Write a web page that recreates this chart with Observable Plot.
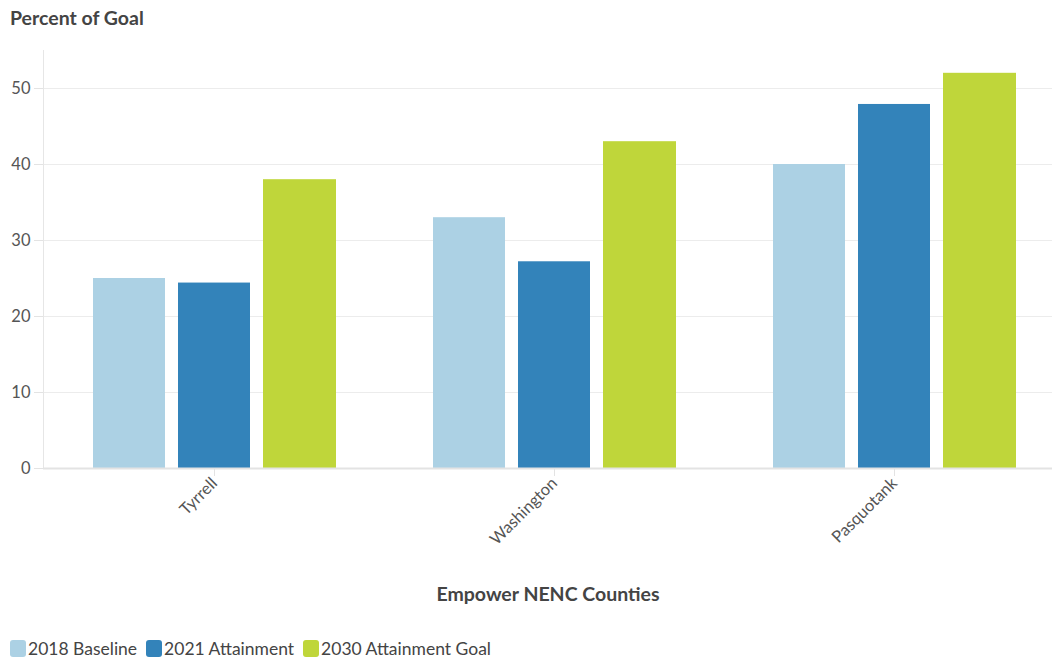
<!DOCTYPE html>
<html><head><meta charset="utf-8">
<script src="https://cdn.jsdelivr.net/npm/d3@7"></script>
<script src="https://cdn.jsdelivr.net/npm/@observablehq/plot@0.6"></script>
<style>
body{margin:0;background:#fff;font-family:Lato,"Open Sans",sans-serif;color:#444;width:1052px;height:658px;overflow:hidden;position:relative}
#title{position:absolute;left:10px;top:6px;font-weight:bold;font-size:19.5px;color:#444}
#chart{position:absolute;left:0;top:40px}
#legend{position:absolute;left:10px;top:638px;display:flex;gap:9px;font-size:17.5px;color:#444}
.item{display:flex;align-items:center;gap:2px}
.sw{width:16px;height:17px;border-radius:3px;display:inline-block}
g[aria-label="y-axis tick"], g[aria-label="x-axis tick"]{stroke:#e3e3e3;stroke-opacity:1}
g[aria-label="y-grid"]{stroke:#ececec;stroke-opacity:1}
g[aria-label="x-axis label"]{font-weight:bold;font-size:19.5px;fill:#444}
</style></head>
<body>
<div id="title">Percent of Goal</div>
<div id="chart"></div>
<div id="legend"></div>
<script>
const counties = ["Tyrrell", "Washington", "Pasquotank"];
const seriesNames = ["2018 Baseline", "2021 Attainment", "2030 Attainment Goal"];
const baseline2018 = [25, 33, 40];
const attainment2021 = [24.4, 27.2, 47.9];
const goal2030 = [38, 43, 52];
const seriesColors = ["#acd1e4", "#3383ba", "#bfd63a"];
const yTicks = [0, 10, 20, 30, 40, 50];
const xTitle = "Empower NENC Counties";

const seriesValues = [baseline2018, attainment2021, goal2030];
const rows = seriesValues.map((vals, s) => counties.map((c, i) => ({county: c, series: seriesNames[s], value: vals[i]})));
const insets = [[49, 219], [134, 134], [219, 48]];

const plot = Plot.plot({
  width: 1052,
  height: 570,
  marginLeft: 43,
  marginRight: 0,
  marginTop: 10,
  marginBottom: 142,
  style: {fontSize: "16.5px", fontFamily: "Lato, 'Open Sans', sans-serif", color: "#555", background: "#fff"},
  x: {domain: counties, range: [43, 1064], padding: 0, tickRotate: -45, tickSize: 8, tickPadding: 4, label: xTitle, labelAnchor: "center", labelOffset: 132},
  y: {domain: [0, 55], ticks: yTicks, grid: true, tickSize: 9, tickPadding: 4, label: null},
  color: {domain: seriesNames, range: seriesColors},
  marks: [
    Plot.frame({anchor: "left", stroke: "#e6e6e6"}),
    ...rows.map((data, s) => Plot.barY(data, {x: "county", y: "value", fill: "series", insetLeft: insets[s][0], insetRight: insets[s][1]})),
    Plot.ruleY([0], {stroke: "#e3e3e3", strokeWidth: 2})
  ]
});
document.getElementById("chart").appendChild(plot);

const leg = document.getElementById("legend");
seriesNames.forEach((n, i) => {
  const it = document.createElement("div"); it.className = "item";
  it.innerHTML = `<span class="sw" style="background:${seriesColors[i]}"></span><span>${n}</span>`;
  leg.appendChild(it);
});
</script>
</body></html>
